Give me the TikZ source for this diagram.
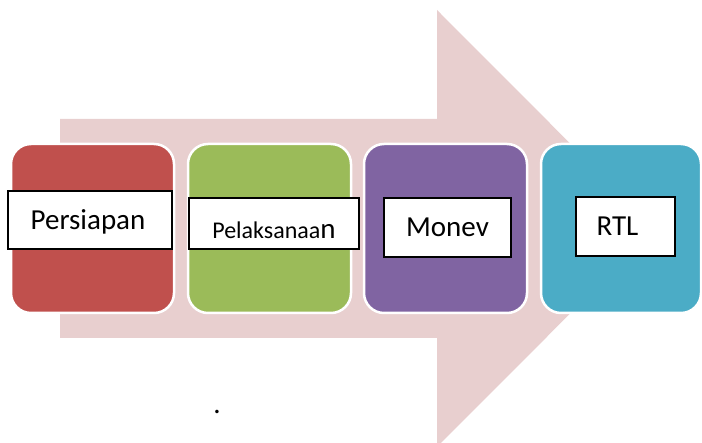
\documentclass[tikz,border=0pt]{standalone}
\usepackage{fontspec}
\setmainfont{Carlito}
\definecolor{arrowpink}{HTML}{E8CFCF}
\definecolor{cred}{HTML}{C0504D}
\definecolor{cgreen}{HTML}{9BBB59}
\definecolor{cpurple}{HTML}{8064A2}
\definecolor{cteal}{HTML}{4BACC6}
\begin{document}
\begin{tikzpicture}[x=1pt,y=-1pt,
  stage/.style={rectangle, rounded corners=20pt, draw=white, line width=2.5pt,
    minimum width=163pt, minimum height=169pt, inner sep=0pt},
  lbl/.style={rectangle, draw=black, line width=1.3pt, fill=white, inner sep=0pt,
    text height=19pt, text depth=0pt, font=\fontsize{29}{33}\selectfont}]
\useasboundingbox (0,0) rectangle (702,443);
% big background arrow
\fill[arrowpink] (60,119) -- (437,119) -- (437,10) -- (655,228.5) -- (437,447)
  -- (437,338) -- (60,338) -- cycle;
% stage boxes
\node[stage, fill=cred] (s1) at (92.5,228.5) {};
\node[stage, fill=cgreen] (s2) at (269.5,228.5) {};
\node[stage, fill=cpurple] (s3) at (445.5,228.5) {};
\node[stage, fill=cteal, minimum width=160pt] (s4) at (621,228.5) {};
% labels
\node[lbl, minimum width=164pt, minimum height=58pt] (l1) at (90,220) {\hspace*{-4pt}Persiapan};
\node[lbl, minimum width=170pt, minimum height=51pt] (l2) at (274,223.5)
  {\raisebox{-6pt}{\fontsize{24}{28}\selectfont Pelaksanaa\fontsize{29}{33}\selectfont n}};
\node[lbl, minimum width=127pt, minimum height=59pt] (l3) at (447.5,227.5) {Monev};
\node[lbl, minimum width=99pt, minimum height=59pt] (l4) at (625.5,226.5) {RTL\hspace*{16pt}};
% dot
\node[anchor=base, inner sep=0pt, font=\fontsize{29}{33}\selectfont] (dot) at (217,414) {.};
\end{tikzpicture}
\end{document}
